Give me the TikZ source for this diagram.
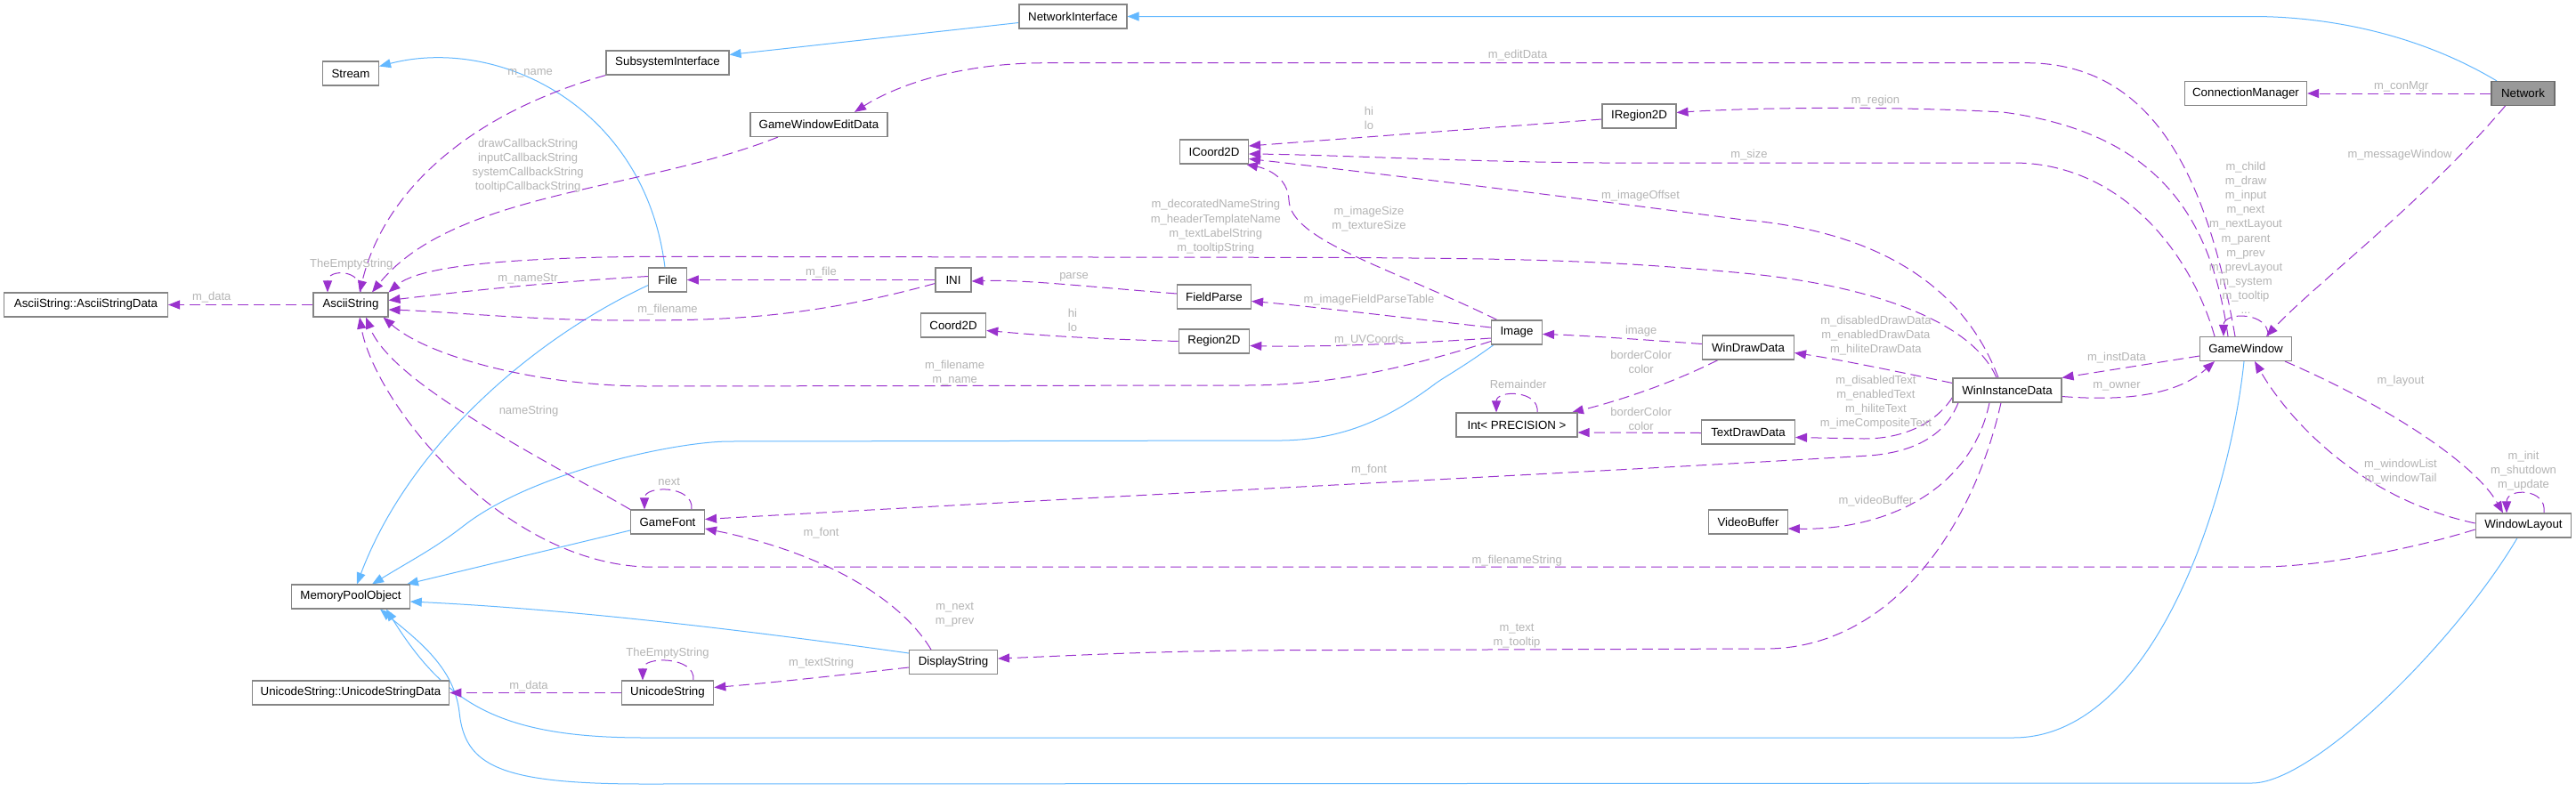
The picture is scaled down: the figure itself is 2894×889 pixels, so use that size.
\documentclass[tikz,border=0pt]{standalone}
\usepackage{fontspec}
\setmainfont{Liberation Sans}
\usetikzlibrary{arrows.meta}
\definecolor{inhblue}{HTML}{63B8FF}
\definecolor{usepurple}{HTML}{9A32CD}
\definecolor{lblgray}{HTML}{B4B4B4}
\definecolor{nodeborder}{HTML}{858585}
\definecolor{curborder}{HTML}{6E6E6E}
\definecolor{curfill}{HTML}{999999}
\pgfdeclarelayer{bg}
\pgfsetlayers{bg,main}
\begin{document}
\begin{tikzpicture}[x=1pt,y=-1pt,
 cls/.style={draw=nodeborder, fill=white, line width=1.1pt, minimum height=27pt, inner sep=0pt, font=\fontsize{13.3}{16}\selectfont},
 lbl/.style={text=lblgray, font=\fontsize{13}{16.1}\selectfont, align=center, inner sep=0pt},
 inh/.style={draw=inhblue, line width=1pt, -{Triangle[length=13pt,width=10pt,fill=inhblue]}},
 use/.style={draw=usepurple, line width=1pt, dash pattern=on 12pt off 6pt, -{Triangle[length=13pt,width=10pt,fill=usepurple]}},
]
\useasboundingbox (0,0) rectangle (2894,889);
\begin{pgfonlayer}{bg}
\fill[white] (0,0) rectangle (2894,889);
\end{pgfonlayer}

% nodes
\node[cls, minimum width=63pt] (stream) at (394,82.5) {Stream};
\node[cls, minimum width=138pt] (subsys) at (750,70.5) {SubsystemInterface};
\node[cls, minimum width=121pt] (netif) at (1205.5,18.5) {NetworkInterface};
\node[cls, minimum width=154pt] (gwed) at (920,140) {GameWindowEditData};
\node[cls, minimum width=77pt] (icoord) at (1364,170.5) {ICoord2D};
\node[cls, minimum width=83pt] (iregion) at (1841.5,130.5) {IRegion2D};
\node[cls, minimum width=137pt] (connmgr) at (2523,105) {ConnectionManager};
\node[cls, minimum width=71pt, fill=curfill, draw=curborder] (network) at (2834.5,105) {Network};
\node[cls, minimum width=184pt] (asdata) at (96.5,342.5) {AsciiString::AsciiStringData};
\node[cls, minimum width=84pt] (ascii) at (394,342.5) {AsciiString};
\node[cls, minimum width=42.5pt] (file) at (750,314.5) {File};
\node[cls, minimum width=40pt] (ini) at (1071,314.5) {INI};
\node[cls, minimum width=83pt] (fieldparse) at (1364,333.5) {FieldParse};
\node[cls, minimum width=73.5pt] (coord) at (1071,365.5) {Coord2D};
\node[cls, minimum width=79.5pt] (region) at (1364,383.5) {Region2D};
\node[cls, minimum width=57pt] (image) at (1704,373.5) {Image};
\node[cls, minimum width=103pt] (windraw) at (1964,390.5) {WinDrawData};
\node[cls, minimum width=136pt] (intp) at (1704,477.5) {Int< PRECISION >};
\node[cls, minimum width=105pt] (textdraw) at (1964,485.5) {TextDrawData};
\node[cls, minimum width=88.6pt] (video) at (1964,586.5) {VideoBuffer};
\node[cls, minimum width=103pt] (gamewin) at (2523,392) {GameWindow};
\node[cls, minimum width=122pt] (wininst) at (2255,438.5) {WinInstanceData};
\node[cls, minimum width=107.6pt] (winlayout) at (2835,590.5) {WindowLayout};
\node[cls, minimum width=132.5pt] (mpo) at (394,670.5) {MemoryPoolObject};
\node[cls, minimum width=221.6pt] (usdata) at (394,778.5) {UnicodeString::UnicodeStringData};
\node[cls, minimum width=103.6pt] (ustr) at (750,778.5) {UnicodeString};
\node[cls, minimum width=99pt] (disp) at (1071,744) {DisplayString};
\node[cls, minimum width=83pt] (gfont) at (750,586.5) {GameFont};

% edges
\begin{pgfonlayer}{bg}
% inheritance
\draw[inh] ([xshift=-29.5pt]network.north) .. controls (2720,40) and (2620,18.5) .. (2530,18.5) -- (netif.east);
\draw[inh] ([yshift=-7pt]netif.west) -- ([yshift=9pt]subsys.east);
\draw[inh] ([xshift=-3pt]file.north) .. controls (725,120) and (560,40) .. ([yshift=8pt]stream.east);
\draw[inh] ([yshift=-6pt]file.west) .. controls (600,380) and (460,500) .. ([xshift=7pt]mpo.north);
\draw[inh] ([xshift=-26pt]image.south) .. controls (1640,415) and (1620,425) .. (1610,433) .. controls (1560,470) and (1510,494) .. (1440,495) -- (820,496) .. controls (760,496) and (600,530) .. (522,590) .. controls (490,615) and (470,625) .. ([xshift=24pt]mpo.north);
\draw[inh] ([yshift=-9.5pt]gfont.west) -- ([xshift=63pt]mpo.north);
\draw[inh] ([yshift=10pt]disp.west) .. controls (850,710) and (650,685) .. ([yshift=-5.5pt]mpo.east);
\draw[inh] ([xshift=-2pt]gamewin.south) .. controls (2505,560) and (2420,829) .. (2262,829) -- (724,829) .. controls (560,829) and (500,790) .. ([xshift=40pt]mpo.south);
\draw[inh] ([xshift=-7pt]winlayout.south) .. controls (2760,720) and (2600,880) .. (2530,880) -- (724,881) .. controls (560,881) and (522,860) .. (516,800) .. controls (510,750) and (470,720) .. ([xshift=33pt]mpo.south);
% usage
\draw[use] (ascii.west) -- (asdata.east);
\draw[use] ([xshift=11pt]ascii.north) .. controls (408,302) and (368,302) .. ([xshift=-26pt]ascii.north);
\draw[use] (subsys.south west) .. controls (520,130) and (430,220) .. ([xshift=10pt]ascii.north);
\draw[use] ([xshift=-46pt]gwed.south) .. controls (720,215) and (510,215) .. ([xshift=24pt]ascii.north);
\draw[use] ([xshift=-12pt]gamewin.north) .. controls (2480,200) and (2420,70.7) .. (2276,70.7) -- (1176,70.7) .. controls (1070,70.7) and (1000,100) .. ([xshift=40pt]gwed.north);
\draw[use] ([xshift=-20pt]gamewin.north) .. controls (2485,250) and (2430,150) .. (2250,126) .. controls (2100,118) and (1950,122) .. ([yshift=4pt]iregion.east);
\draw[use] ([xshift=-35pt]gamewin.north) .. controls (2460,280) and (2380,183) .. (2262,183) -- (1800,183) .. controls (1650,182) and (1500,174) .. ([yshift=-2.5pt]icoord.east);
\draw[use] ([yshift=-3.5pt]iregion.west) -- ([yshift=6.5pt]icoord.east);
\draw[use] ([xshift=-10pt]wininst.north) .. controls (2215,345) and (2140,262) .. (1956,246.7) .. controls (1800,226) and (1550,195) .. ([yshift=-8pt]icoord.east);
\draw[use] ([xshift=-22pt]image.north) .. controls (1560,300) and (1450,270) .. (1448,225) .. controls (1447,200) and (1425,190) .. ([xshift=-3pt]icoord.south east);
\draw[use] (ini.west) -- (file.east);
\draw[use] ([yshift=-4pt]ini.west) .. controls (900,360) and (800,360) .. (700,360) .. controls (600,360) and (500,350) .. ([yshift=-5.5pt]ascii.east);
\draw[use] ([yshift=4pt]file.west) .. controls (600,318) and (500,330) .. ([yshift=5pt]ascii.east);
\draw[use] ([yshift=3.5pt]fieldparse.west) .. controls (1220,322) and (1150,314) .. ([yshift=-1.5pt]ini.east);
\draw[use] (region.west) .. controls (1200,380) and (1150,375) .. ([yshift=-6pt]coord.east);
\draw[use] ([yshift=5.5pt]image.west) .. controls (1560,355) and (1460,343) .. ([yshift=-5pt]fieldparse.east);
\draw[use] ([yshift=-6.5pt]image.west) .. controls (1560,388) and (1460,390) .. ([yshift=-5pt]region.east);
\draw[use] ([yshift=-10pt]image.west) .. controls (1560,420) and (1480,433) .. (1400,433) -- (724,434) .. controls (600,433) and (480,400) .. ([xshift=-6pt]ascii.south east);
\draw[use] (gfont.north west) .. controls (600,510) and (440,430) .. ([xshift=17pt]ascii.south);
\draw[use] ([xshift=27pt]gfont.north) .. controls (780,545) and (724,545) .. ([xshift=-26pt]gfont.north);
\draw[use] ([xshift=-55pt]wininst.south) .. controls (2185,490) and (2150,508) .. (2100,512) .. controls (1800,530) and (1200,560) .. ([yshift=3pt]gfont.east);
\draw[use] ([xshift=-25pt]disp.north) .. controls (1010,670) and (920,620) .. ([yshift=-7.5pt]gfont.east);
\draw[use] ([xshift=-7pt]wininst.south) .. controls (2215,600) and (2120,729) .. (1983.6,729) -- (1448,730.7) .. controls (1300,731) and (1200,737) .. ([yshift=4pt]disp.east);
\draw[use] ([yshift=-6pt]disp.west) .. controls (950,758) and (870,767) .. ([yshift=6pt]ustr.east);
\draw[use] ([xshift=29pt]ustr.north) .. controls (782,737) and (722,737) .. ([xshift=-28pt]ustr.north);
\draw[use] (ustr.west) -- (usdata.east);
\draw[use] ([yshift=8pt]wininst.west) .. controls (2120,415) and (2060,403) .. ([yshift=-6pt]windraw.east);
\draw[use] ([yshift=-8pt]wininst.west) .. controls (2175,475) and (2140,493) .. (2094,493) -- ([yshift=-6pt]textdraw.east);
\draw[use] ([xshift=-20pt]wininst.south) .. controls (2215,550) and (2120,596) .. ([yshift=-7.5pt]video.east);
\draw[use] ([xshift=-12pt]wininst.north) .. controls (2215,360) and (2100,320) .. (1956,306.7) .. controls (1800,292) and (1700,290) .. (1448,289.3) -- (724,288.3) .. controls (560,290) and (470,300) .. (ascii.north east);
\draw[use] ([yshift=-7pt]wininst.east) .. controls (2400,452) and (2450,440) .. ([xshift=-35pt]gamewin.south);
\draw[use] ([yshift=-8pt]gamewin.west) -- (wininst.north east);
\draw[use] ([xshift=44pt]gamewin.south) .. controls (2680,455) and (2780,520) .. ([xshift=-23pt]winlayout.north);
\draw[use] ([yshift=2.5pt]winlayout.west) .. controls (2650,560) and (2570,470) .. ([xshift=10pt]gamewin.south);
\draw[use] ([xshift=23pt]winlayout.north) .. controls (2862,548) and (2816,548) .. ([xshift=-19pt]winlayout.north);
\draw[use] ([yshift=-4.5pt]winlayout.west) .. controls (2700,620) and (2600,637) .. (2539,637) -- (724,637) .. controls (560,630) and (420,450) .. ([xshift=10pt]ascii.south);
\draw[use] ([xshift=23pt]intp.north) .. controls (1730,438) and (1681,438) .. ([xshift=-23pt]intp.north);
\draw[use] ([xshift=-34pt]windraw.south) .. controls (1880,430) and (1820,450) .. ([xshift=62pt]intp.north);
\draw[use] ([yshift=-1pt]textdraw.west) -- ([yshift=-8.5pt]intp.east);
\draw[use] ([yshift=4pt]windraw.west) .. controls (1850,382) and (1780,377) .. ([yshift=-2pt]image.east);
\draw[use] (network.west) -- (connmgr.east);
\draw[use] ([xshift=-20pt]network.south) .. controls (2720,230) and (2600,320) .. ([xshift=23pt]gamewin.north);
\draw[use] ([xshift=25pt]gamewin.north) .. controls (2550,350) and (2498,350) .. ([xshift=-25pt]gamewin.north);
\end{pgfonlayer}

% labels
\node[lbl] (l1) at (237.8,334) {m\_data};
\node[lbl] (l2) at (394.8,297) {TheEmptyString};
\node[lbl] (l3) at (595.6,82) {m\_name};
\node[lbl] (l4) at (593,186) {drawCallbackString\\inputCallbackString\\systemCallbackString\\tooltipCallbackString};
\node[lbl] (l5) at (1705,62.3) {m\_editData};
\node[lbl] (l6) at (2107,113) {m\_region};
\node[lbl] (l7) at (1965,174) {m\_size};
\node[lbl] (l8) at (1538,132.5) {hi\\lo};
\node[lbl] (l9) at (1843,220) {m\_imageOffset};
\node[lbl] (l10) at (1538,246.5) {m\_imageSize\\m\_textureSize};
\node[lbl] (l11) at (922.5,306) {m\_file};
\node[lbl] (l12) at (750,348) {m\_filename};
\node[lbl] (l13) at (593,313) {m\_nameStr};
\node[lbl] (l14) at (1206.5,311.7) {parse};
\node[lbl] (l15) at (1205,359.7) {hi\\lo};
\node[lbl] (l16) at (1538,336.7) {m\_imageFieldParseTable};
\node[lbl] (l17) at (1538,381.7) {m\_UVCoords};
\node[lbl] (l18) at (1072.6,418.7) {m\_filename\\m\_name};
\node[lbl] (l19) at (594,461.7) {nameString};
\node[lbl] (l20) at (751.7,541.7) {next};
\node[lbl] (l21) at (1538,527.7) {m\_font};
\node[lbl] (l22) at (922.5,599) {m\_font};
\node[lbl] (l23) at (1704,714.5) {m\_text\\m\_tooltip};
\node[lbl] (l24) at (922.5,744.7) {m\_textString};
\node[lbl] (l25) at (750,734) {TheEmptyString};
\node[lbl] (l26) at (594,770.7) {m\_data};
\node[lbl] (l27) at (2107.4,376.7) {m\_disabledDrawData\\m\_enabledDrawData\\m\_hiliteDrawData};
\node[lbl] (l28) at (2107.4,451.8) {m\_disabledText\\m\_enabledText\\m\_hiliteText\\m\_imeCompositeText};
\node[lbl] (l29) at (2107.4,562.7) {m\_videoBuffer};
\node[lbl] (l30) at (1365.8,254.7) {m\_decoratedNameString\\m\_headerTemplateName\\m\_textLabelString\\m\_tooltipString};
\node[lbl] (l31) at (2378,434) {m\_owner};
\node[lbl] (l32) at (2378,401.7) {m\_instData};
\node[lbl] (l33) at (2697,428.3) {m\_layout};
\node[lbl] (l34) at (2697,529.7) {m\_windowList\\m\_windowTail};
\node[lbl] (l35) at (2835,529.3) {m\_init\\m\_shutdown\\m\_update};
\node[lbl] (l36) at (1704.3,629.7) {m\_filenameString};
\node[lbl] (l37) at (1705.6,431.7) {Remainder};
\node[lbl] (l38) at (1843.7,406.7) {borderColor\\color};
\node[lbl] (l39) at (1843.7,470.7) {borderColor\\color};
\node[lbl] (l40) at (1843.7,371.7) {image};
\node[lbl] (l41) at (2697.7,97.7) {m\_conMgr};
\node[lbl] (l42) at (2696,174) {m\_messageWindow};
\node[lbl] (l43) at (2523,267.3) {m\_child\\m\_draw\\m\_input\\m\_next\\m\_nextLayout\\m\_parent\\m\_prev\\m\_prevLayout\\m\_system\\m\_tooltip\\...};
\node[lbl] (l44) at (1072.6,691) {m\_next\\m\_prev};
\end{tikzpicture}
\end{document}
